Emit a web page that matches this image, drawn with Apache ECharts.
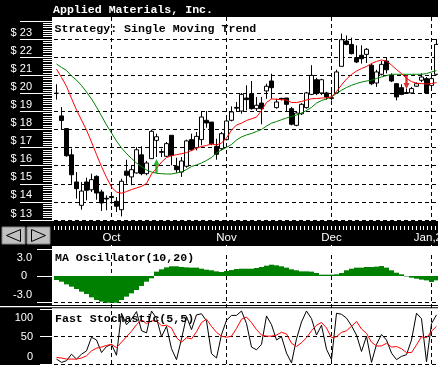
<!DOCTYPE html>
<html><head><meta charset="utf-8">
<script src="https://cdn.jsdelivr.net/npm/echarts@6/dist/echarts.min.js"></script>
<style>html,body{margin:0;padding:0;background:#000}#c{width:438px;height:365px}</style>
</head><body><div id="c"></div>
<script>
const dates = ['2001-09-10','2001-09-17','2001-09-18','2001-09-19','2001-09-20','2001-09-21','2001-09-24','2001-09-25','2001-09-26','2001-09-27','2001-09-28',
'2001-10-01','2001-10-02','2001-10-03','2001-10-04','2001-10-05','2001-10-08','2001-10-09','2001-10-10','2001-10-11','2001-10-12','2001-10-15','2001-10-16','2001-10-17','2001-10-18','2001-10-19','2001-10-22','2001-10-23','2001-10-24','2001-10-25','2001-10-26','2001-10-29','2001-10-30','2001-10-31',
'2001-11-01','2001-11-02','2001-11-05','2001-11-06','2001-11-07','2001-11-08','2001-11-09','2001-11-12','2001-11-13','2001-11-14','2001-11-15','2001-11-16','2001-11-19','2001-11-20','2001-11-21','2001-11-23','2001-11-26','2001-11-27','2001-11-28','2001-11-29','2001-11-30',
'2001-12-03','2001-12-04','2001-12-05','2001-12-06','2001-12-07','2001-12-10','2001-12-11','2001-12-12','2001-12-13','2001-12-14','2001-12-17','2001-12-18','2001-12-19','2001-12-20','2001-12-21','2001-12-24','2001-12-26','2001-12-27','2001-12-28','2001-12-31',
'2002-01-02','2002-01-03'];
const open = [20.0,18.75,18.05,16.6,15.1,13.81,15.1,14.67,15.41,14.55,
14.2,14.3,14.03,13.57,15.7,15.38,15.6,16.6,15.56,16.39,
17.4,16.78,16.52,17.68,15.97,15.65,15.97,17.44,16.99,17.44,
18.51,18.41,17.07,16.94,17.44,18.51,19.22,19.02,19.74,19.98,
19.15,19.46,20.13,20.68,19.21,19.72,19.74,19.15,18.23,18.87,
19.21,19.94,20.75,20.02,20.02,19.72,20.02,21.49,22.89,22.7,
21.97,22.1,22.15,21.55,20.57,21.05,21.78,20.99,20.53,20.31,
20.04,20.02,20.39,20.72,20.81,20.44,21.05];
const close = [20.0,18.5,16.55,15.5,14.73,14.6,14.64,15.23,14.49,13.94,
14.16,14.24,13.76,15.14,15.47,15.78,16.88,15.56,16.15,17.9,
17.6,16.74,17.22,16.57,15.78,16.26,17.37,16.88,17.62,18.69,
18.36,17.22,16.63,17.77,18.47,18.97,19.18,19.94,19.65,19.15,
19.34,19.15,20.39,20.31,19.52,19.68,19.39,18.29,18.91,19.39,
20.02,20.99,19.98,20.75,19.8,19.76,21.18,22.96,22.7,22.19,
21.73,21.91,22.43,20.53,21.18,21.6,21.3,20.68,19.8,19.94,
20.0,20.26,20.53,20.9,20.02,20.81,22.7];
const high = [20.5,19.24,18.05,16.94,15.65,15.1,15.34,15.56,15.47,14.67,
14.36,14.45,14.27,15.28,16.33,16.02,17.03,17.07,16.26,17.99,
17.77,16.94,17.31,17.68,16.44,16.48,17.44,17.77,17.86,18.97,
19.02,18.41,17.49,17.86,18.6,19.28,19.52,20.02,20.44,20.68,
19.8,19.8,20.53,21.08,19.7,19.75,19.74,19.25,19.02,19.46,
20.08,21.55,20.85,20.8,20.08,20.3,21.3,23.3,23.2,23.07,
22.65,22.65,22.5,21.64,21.3,21.78,21.97,21.1,20.57,20.5,
20.26,20.35,20.6,21.1,20.9,20.99,23.0];
const low = [19.65,18.0,16.5,15.0,14.18,13.57,14.09,14.55,14.12,13.5,
13.54,13.9,13.44,13.2,15.0,14.92,15.56,15.47,15.47,16.39,
16.48,16.48,16.48,16.02,15.6,15.38,15.89,16.81,16.85,17.13,
18.1,17.13,16.33,16.85,17.4,18.45,18.97,18.87,19.06,19.1,
19.02,18.29,19.7,19.7,19.15,19.6,18.97,18.23,18.18,18.8,
19.15,19.9,19.9,19.9,19.65,19.6,19.98,21.49,22.65,22.15,
21.67,21.64,21.67,20.45,20.35,20.99,21.1,20.62,19.61,19.9,
19.98,19.98,20.35,20.62,19.98,20.26,20.99];
const ma10 = [21.34,20.88,20.39,19.72,19.08,18.52,17.97,17.31,16.62,15.95,
15.35,14.82,14.54,14.48,14.57,14.68,14.77,14.86,15.02,15.54,
15.85,16.20,16.45,16.55,16.61,16.66,16.72,16.84,16.97,17.06,
17.12,17.20,17.15,17.25,17.53,17.97,18.25,18.35,18.50,18.59,
18.69,19.05,19.49,19.69,19.67,19.65,19.62,19.49,19.49,19.55,
19.63,19.70,19.71,19.74,19.75,19.80,20.10,20.46,20.79,21.04,
21.23,21.37,21.48,21.65,21.76,21.84,21.78,21.56,21.31,21.09,
20.82,20.65,20.56,20.54,20.51,20.54,20.59];
const ma20 = [21.62,21.43,21.26,20.96,20.73,20.43,20.07,19.69,19.24,18.75,
18.25,17.81,17.36,16.98,16.67,16.40,16.15,15.96,15.76,15.65,
15.58,15.56,15.54,15.54,15.60,15.65,15.79,15.96,16.04,16.15,
16.29,16.45,16.70,16.87,17.01,17.17,17.42,17.59,17.70,17.78,
17.89,18.00,18.19,18.35,18.44,18.54,18.64,18.72,18.80,18.91,
19.05,19.22,19.46,19.60,19.69,19.80,19.99,20.17,20.32,20.44,
20.54,20.62,20.68,20.72,20.82,20.90,20.98,21.05,21.05,21.05,
21.05,21.05,21.05,21.05,21.09,21.18,21.25];
const maOsc = [-0.45,-0.64,-0.94,-1.2,-1.46,-1.76,-2.02,-2.4,-2.7,-2.88,
-3.0,-3.07,-3.0,-2.7,-2.32,-1.95,-1.57,-1.12,-0.64,-0.26,
0.49,0.75,0.97,1.09,1.09,1.01,0.97,0.94,0.94,0.82,
0.71,0.64,0.52,0.45,0.56,0.67,0.79,0.82,0.82,0.82,
0.9,1.01,1.16,1.27,1.2,1.09,0.94,0.75,0.64,0.52,
0.52,0.49,0.34,0.15,0.15,0.15,0.19,0.34,0.64,0.82,
0.94,0.94,1.01,1.01,1.05,1.12,0.94,0.64,0.37,0.19,
-0.05,-0.19,-0.3,-0.41,-0.49,-0.67,-0.49];
const stochK = [9,3,6,18,9,18,24,49,44,21,
32,36,16,93,72,82,96,61,57,97,
84,50,69,28,8,46,87,63,90,92,
79,19,11,54,80,89,89,97,74,31,
26,36,88,72,44,50,20,2,46,77,
97,83,53,71,27,8,93,91,84,70,
53,23,51,3,36,54,44,20,8,14,
17,44,93,83,4,74,90];
const stochD = [12,11,9,9,9,11,15,24,29,31,
34,36,30,40,50,60,72,81,74,79,
79,70,71,66,48,40,48,46,59,76,
82,69,58,51,49,51,65,82,86,76,
63,53,51,51,53,58,55,38,32,39,
48,61,71,76,66,48,50,58,61,69,
78,64,56,40,33,33,38,31,32,28,
21,21,35,50,48,60,69];
const buyIdx = [20], buyPrice = [15.99];
const sellIdx = [70], sellPrice = [20.62];
const monthStarts = [11, 34, 55, 75];
const monthLabels = ['Oct', 'Nov', 'Dec', 'Jan,2002'];
const priceMin = 13, priceMax = 24;
const oscTicks = {3: '3.0', 0: '0', '-3': '-3.0'};
const stochTicks = {100: '100', 50: '50', 0: '0'};

const fMono = '"Liberation Mono","DejaVu Sans Mono",monospace';
const fSans = '"Liberation Sans",Arial,sans-serif';
const isMonth = (i) => monthStarts.indexOf(i) >= 0;
const dash = [4, 3];
const hiddenCat = (g) => ({type:'category', gridIndex:g, data:dates, boundaryGap:true,
  axisLine:{show:false}, axisTick:{show:false}, axisLabel:{show:false}, splitLine:{show:false}});
const wt = {color:'#fff', width:1};
const gridBase = {outerBoundsMode:'none', containLabel:false};

const chart = echarts.init(document.getElementById('c'), null, {renderer:'canvas'});
const mainGridColors = [];
for (let v = priceMin; v <= priceMax; v++) mainGridColors.push(v < priceMax ? '#000' : 'rgba(0,0,0,0)');

chart.setOption({
  animation:false,
  backgroundColor:'#000',
  grid:[
    Object.assign({left:54, width:385, top:20.9, height:199.1}, gridBase),
    Object.assign({left:54, width:385, top:249.3, height:53.4}, gridBase),
    Object.assign({left:54, width:385, top:309.4, height:54.6}, gridBase),
    Object.assign({left:54, width:385, top:226, height:19}, gridBase),
    Object.assign({left:56.5, width:380, top:17, height:348}, gridBase)
  ],
  xAxis:[
    hiddenCat(0), hiddenCat(1), hiddenCat(2),
    {type:'category', gridIndex:3, data:dates, position:'top', boundaryGap:true,
     axisLine:{show:false},
     axisTick:{show:true, inside:true, length:7, alignWithLabel:true, interval:(i)=>isMonth(i), lineStyle:wt},
     axisLabel:{show:true, inside:true, margin:6, interval:(i)=>isMonth(i), color:'#fff', fontSize:11.5, fontFamily:fSans,
       hideOverlap:false,
       formatter:(v,i)=>{const m=monthStarts.indexOf(i); if(m<0) return ''; return m===3?'{j|'+monthLabels[m]+'}':monthLabels[m];},
       rich:{j:{color:'#fff', fontSize:11.5, fontFamily:fSans, padding:[0,0,0,12]}}},
     splitLine:{show:false}},
    {type:'value', gridIndex:3, min:0, max:100, interval:1, position:'top',
     axisLine:{show:false}, axisTick:{show:true, inside:true, length:4, lineStyle:wt},
     axisLabel:{show:false}, splitLine:{show:false}},
    {type:'category', gridIndex:4, data:dates, boundaryGap:false,
     axisLine:{show:false}, axisTick:{show:false}, axisLabel:{show:false},
     splitLine:{show:true, interval:(i)=>isMonth(i), lineStyle:{color:'#000', width:1, type:dash}}}
  ],
  yAxis:[
    {type:'value', gridIndex:0, min:priceMin, max:priceMax, interval:1, position:'left', offset:2,
     axisLine:{show:false},
     axisTick:{show:true, length:32, lineStyle:wt},
     minorTick:{show:true, splitNumber:8, length:9, lineStyle:wt},
     axisLabel:{margin:20, color:'#fff', fontSize:11, fontFamily:fSans,
       formatter:(v)=> v >= priceMax ? '' : '{a|$ '+v+'}',
       rich:{a:{color:'#fff', fontSize:11, fontFamily:fSans, padding:[0,0,13,0]}}},
     splitLine:{show:true, showMaxLine:false, lineStyle:{color:mainGridColors, width:1, type:dash}}},
    {type:'value', gridIndex:1, min:-3, max:3, interval:3, position:'left', offset:2,
     axisLine:{show:false},
     axisTick:{show:true, length:15, lineStyle:wt},
     axisLabel:{margin:20, color:'#fff', fontSize:11, fontFamily:fSans,
       formatter:(v)=> v===3?'{t|'+oscTicks[3]+'}': v===0?'{z|'+oscTicks[0]+'}':'{b|'+oscTicks['-3']+'}',
       rich:{t:{color:'#fff',fontSize:11,fontFamily:fSans,padding:[17,0,0,0]},
             z:{color:'#fff',fontSize:11,fontFamily:fSans,padding:[0,5,0,0]},
             b:{color:'#fff',fontSize:11,fontFamily:fSans,padding:[0,0,15,0]}}},
     splitLine:{show:true, showMaxLine:false, lineStyle:{color:['#000','rgba(0,0,0,0)','rgba(0,0,0,0)'], width:1, type:dash}}},
    {type:'value', gridIndex:2, min:0, max:100, interval:50, position:'left', offset:2,
     axisLine:{show:false},
     axisTick:{show:true, length:12, lineStyle:wt},
     axisLabel:{margin:19, color:'#fff', fontSize:11, fontFamily:fSans,
       formatter:(v)=> v===100?'{t|'+stochTicks[100]+'}': v===50?'{m|'+stochTicks[50]+'}':'{b|'+stochTicks[0]+'}',
       rich:{t:{color:'#fff',fontSize:11,fontFamily:fSans,padding:[18,0,0,0]},
             m:{color:'#fff',fontSize:11,fontFamily:fSans},
             b:{color:'#fff',fontSize:11,fontFamily:fSans,padding:[0,0,14,0]}}},
     splitLine:{show:true, showMaxLine:false, lineStyle:{color:['#000','#000','rgba(0,0,0,0)'], width:1, type:dash}}},
    {type:'value', gridIndex:3, show:false},
    {type:'value', gridIndex:4, show:false}
  ],
  series:[
    {type:'candlestick', xAxisIndex:0, yAxisIndex:0, barWidth:4,
     data: dates.map((d,i)=>[open[i], close[i], low[i], high[i]]),
     itemStyle:{color:'#fff', color0:'#000', borderColor:'#000', borderColor0:'#000', borderWidth:1}},
    {type:'line', xAxisIndex:0, yAxisIndex:0, data:ma20, symbol:'none', lineStyle:{color:'#008000', width:1}},
    {type:'line', xAxisIndex:0, yAxisIndex:0, data:ma10, symbol:'none', lineStyle:{color:'#ff0000', width:1}},
    {type:'scatter', xAxisIndex:0, yAxisIndex:0, z:5,
     data: buyIdx.map((k,i)=>[k, buyPrice[i]]),
     symbol:'path://M5,0L10,6L7,6L7,14L3,14L3,6L0,6Z', symbolSize:[6,14], itemStyle:{color:'#00a000'}},
    {type:'scatter', xAxisIndex:0, yAxisIndex:0, z:5,
     data: sellIdx.map((k,i)=>[k, sellPrice[i]]),
     symbol:'path://M3,0L7,0L7,8L10,8L5,14L0,8L3,8Z', symbolSize:[6,14], itemStyle:{color:'#d00000'}},
    {type:'bar', xAxisIndex:1, yAxisIndex:1, data:maOsc, barWidth:'100%', barCategoryGap:0,
     itemStyle:{color:'#008000'}},
    {type:'line', xAxisIndex:2, yAxisIndex:2, data:stochK, symbol:'none', lineStyle:{color:'#000', width:1}},
    {type:'line', xAxisIndex:2, yAxisIndex:2, data:stochD, symbol:'none', lineStyle:{color:'#ff0000', width:1}}
  ],
  graphic:[
    {type:'rect', z:-1, silent:true, shape:{x:52, y:17, width:386, height:204}, style:{fill:'#fff'}},
    {type:'rect', z:-1, silent:true, shape:{x:52, y:246, width:386, height:59}, style:{fill:'#fff'}},
    {type:'rect', z:-1, silent:true, shape:{x:0, y:306, width:438, height:1.3}, style:{fill:'#fff'}},
    {type:'rect', z:-1, silent:true, shape:{x:52, y:308.3, width:386, height:57}, style:{fill:'#fff'}},
    {type:'rect', z:10, silent:true, shape:{x:2, y:227, width:23, height:17}, style:{fill:'#c0c0c0', stroke:'#808080', lineWidth:1}},
    {type:'rect', z:10, silent:true, shape:{x:27, y:227, width:23, height:17}, style:{fill:'#c0c0c0', stroke:'#808080', lineWidth:1}},
    {type:'polygon', z:11, silent:true, shape:{points:[[6.5,235.5],[20.5,229.5],[20.5,241.5]]}, style:{fill:'none', stroke:'#000', lineWidth:1}},
    {type:'polygon', z:11, silent:true, shape:{points:[[31.5,229.5],[45.5,235.5],[31.5,241.5]]}, style:{fill:'none', stroke:'#000', lineWidth:1}},
    {type:'text', z:20, silent:true, style:{text:'Applied Materials, Inc.', x:53, y:10.5, fill:'#fff', font:'bold 11.6px '+fMono, align:'left', verticalAlign:'middle'}},
    {type:'text', z:20, silent:true, style:{text:'Strategy: Single Moving Trend', x:54.5, y:29, fill:'#000', font:'bold 11.6px '+fMono, align:'left', verticalAlign:'middle'}},
    {type:'text', z:20, silent:true, style:{text:'MA Oscillator(10,20)', x:55, y:258, fill:'#000', font:'bold 11.6px '+fMono, align:'left', verticalAlign:'middle'}},
    {type:'text', z:20, silent:true, style:{text:'Fast Stochastic(5,5)', x:55, y:318.7, fill:'#000', font:'bold 11.6px '+fMono, align:'left', verticalAlign:'middle'}}
  ]
});
</script></body></html>
